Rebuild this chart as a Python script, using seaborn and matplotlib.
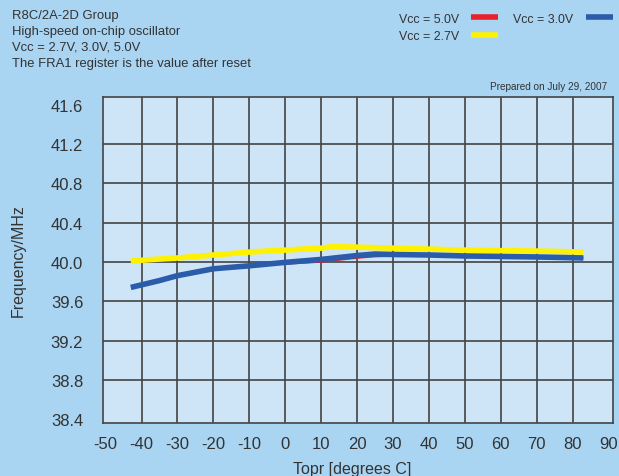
import pandas as pd
import matplotlib.pyplot as plt
import seaborn as sns

# readings
temp_27 = [-43, -30, -20, -10, 0, 10, 13, 20, 30, 40, 50, 60, 70, 83]
freq_27 = [40.01, 40.04, 40.07, 40.10, 40.12, 40.14, 40.155, 40.15, 40.14, 40.13, 40.12, 40.115, 40.11, 40.10]

temp_30 = [-43, -35, -30, -20, -10, 0, 10, 20, 25, 30, 40, 50, 60, 70, 83]
freq_30 = [39.74, 39.81, 39.86, 39.93, 39.96, 39.995, 40.025, 40.065, 40.08, 40.075, 40.07, 40.06, 40.055, 40.05, 40.04]

temp_50 = [0, 10, 20, 25, 30, 40, 50, 60, 70, 83]
freq_50 = [39.985, 40.005, 40.045, 40.06, 40.065, 40.065, 40.06, 40.055, 40.05, 40.04]

x_ticks = list(range(-50, 91, 10))
y_ticks = [38.4, 38.8, 39.2, 39.6, 40.0, 40.4, 40.8, 41.2, 41.6]

df = pd.concat([
    pd.DataFrame({'Topr': temp_50, 'freq': freq_50, 'Vcc': 'Vcc = 5.0V'}),
    pd.DataFrame({'Topr': temp_27, 'freq': freq_27, 'Vcc': 'Vcc = 2.7V'}),
    pd.DataFrame({'Topr': temp_30, 'freq': freq_30, 'Vcc': 'Vcc = 3.0V'}),
])

sns.set_style('white')
plt.rcParams['font.family'] = ['Liberation Sans', 'DejaVu Sans']
text_col = '#333333'

fig = plt.figure(figsize=(6.19, 4.77), dpi=100, facecolor='#a9d4f2')
ax = fig.add_axes([0.166, 0.111, 0.824, 0.684])
ax.set_facecolor('#cde5f7')

palette = {'Vcc = 5.0V': '#e8202a', 'Vcc = 2.7V': '#fff200', 'Vcc = 3.0V': '#2a5caa'}
widths = {'Vcc = 5.0V': 2.0, 'Vcc = 2.7V': 4.0, 'Vcc = 3.0V': 4.0}
for name in ['Vcc = 2.7V', 'Vcc = 5.0V', 'Vcc = 3.0V']:
    sub = df[df['Vcc'] == name]
    sns.lineplot(data=sub, x='Topr', y='freq', color=palette[name], lw=widths[name],
                 ax=ax, label=name, legend=False, zorder=3, solid_capstyle='butt')

ax.set_xlim(-50.8, 91.2)
ax.set_ylim(38.36, 41.68)
ax.set_xticks(x_ticks)
ax.set_yticks(y_ticks)
ax.set_xticklabels([str(t) for t in x_ticks])
ax.set_yticklabels(['%.1f' % t for t in y_ticks])
ax.tick_params(axis='y', length=0, labelsize=12, labelcolor=text_col, pad=14)
ax.tick_params(axis='x', length=0, labelsize=12, labelcolor=text_col, pad=9)
ax.grid(True, color='#444444', lw=1.2, zorder=1)
for line in ax.get_xgridlines()[:1] + ax.get_xgridlines()[-1:] + ax.get_ygridlines()[:1] + ax.get_ygridlines()[-1:]:
    line.set_visible(False)
for s in ax.spines.values():
    s.set_color('#444444')
    s.set_linewidth(1.2)
ax.set_xlabel('Topr [degrees C]', fontsize=11.5, color=text_col, va='center')
ax.set_ylabel('Frequency/MHz', fontsize=11.5, color=text_col, va='center')
ax.xaxis.set_label_coords(0.49, -0.138)
ax.yaxis.set_label_coords(-0.166, 0.5)

header = ['R8C/2A-2D Group', 'High-speed on-chip oscillator',
          'Vcc = 2.7V, 3.0V, 5.0V', 'The FRA1 register is the value after reset']
for i, line in enumerate(header):
    fig.text(12 / 619, 1 - (16 + 16 * i) / 477, line, fontsize=9.4, color=text_col, va='center')
fig.text(607 / 619, 1 - 87 / 477, 'Prepared on July 29, 2007', fontsize=7.2, color=text_col,
         ha='right', va='center')

h, l = ax.get_legend_handles_labels()
order = [l.index('Vcc = 5.0V'), l.index('Vcc = 2.7V'), l.index('Vcc = 3.0V')]
leg = fig.legend([h[i] for i in order], [l[i] for i in order], ncol=2, markerfirst=False,
                 frameon=False, fontsize=8.9, loc='upper right', bbox_to_anchor=(1.008, 0.995),
                 handlelength=2.2, handletextpad=1.0, columnspacing=1.2, labelspacing=0.45)
for t in leg.get_texts():
    t.set_color(text_col)
for lh in leg.get_lines():
    lh.set_linewidth(4)

fig.savefig('out.png', dpi=100, facecolor=fig.get_facecolor())
